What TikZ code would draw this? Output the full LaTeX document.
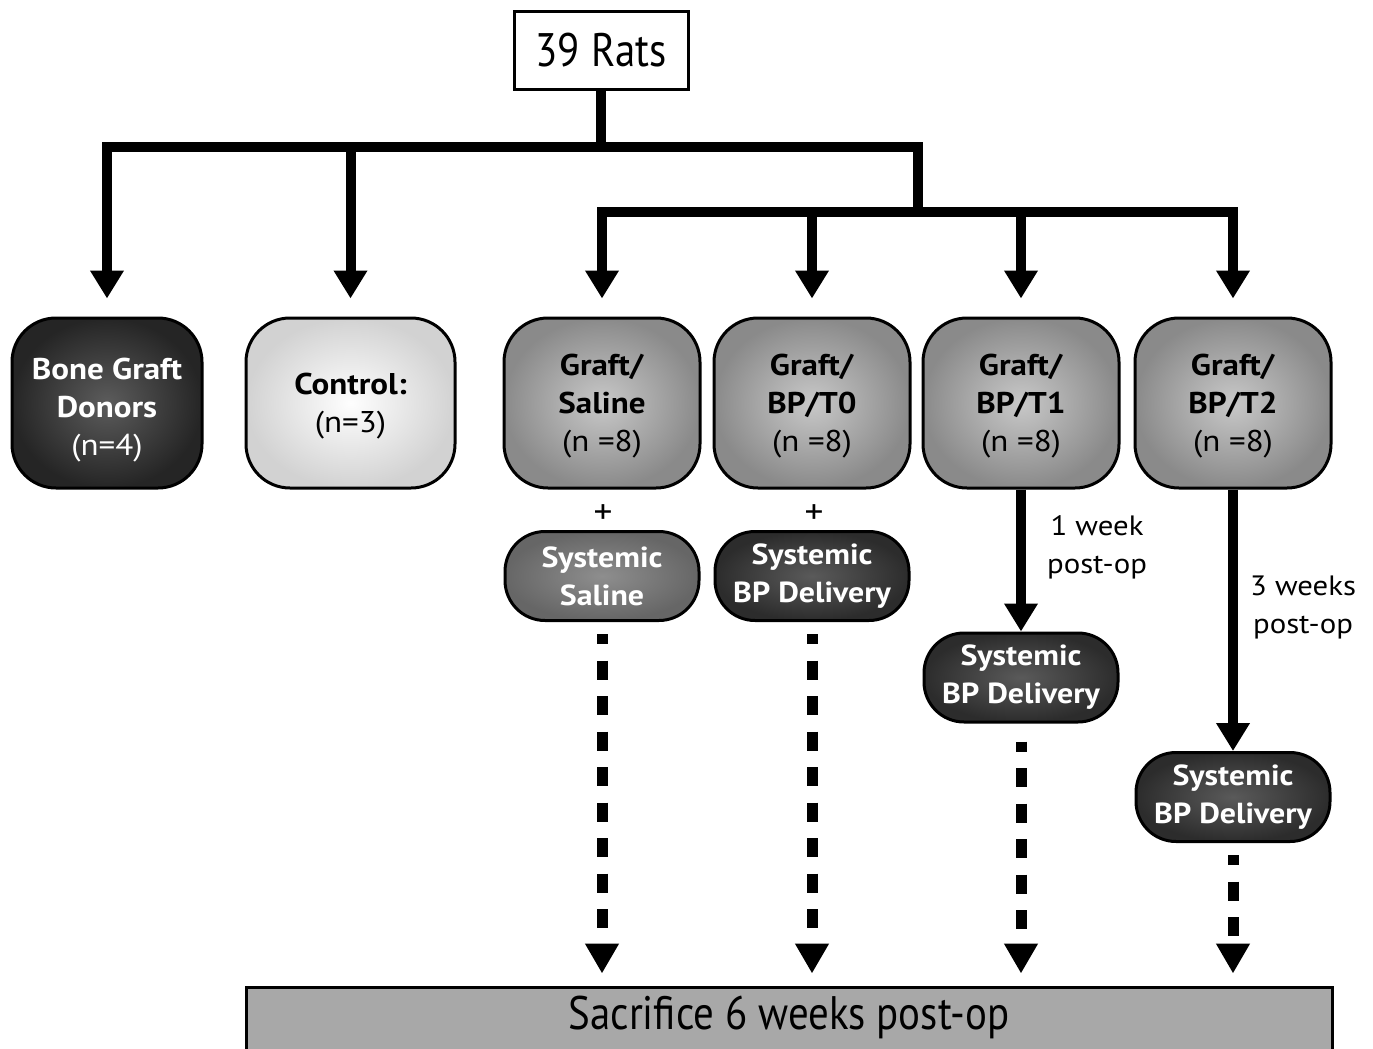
\documentclass[tikz,border=0pt]{standalone}
\usepackage{fontspec}
\setmainfont[FakeStretch=1.1]{PT Sans}
\newfontfamily\narrowfont[FakeStretch=0.87]{PT Sans}
\usetikzlibrary{arrows.meta}
\definecolor{graftin}{HTML}{C8C8C8}
\definecolor{graftout}{HTML}{8A8A8A}
\definecolor{darkin}{HTML}{5C5C5C}
\definecolor{darkout}{HTML}{252525}
\definecolor{lightin}{HTML}{FEFEFE}
\definecolor{lightout}{HTML}{D2D2D2}
\definecolor{salin}{HTML}{8E8E8E}
\definecolor{salout}{HTML}{666666}
\definecolor{bpin}{HTML}{5A5A5A}
\definecolor{bpout}{HTML}{2C2C2C}
\definecolor{sacfill}{HTML}{A8A8A8}
\begin{document}
\begin{tikzpicture}[x=1pt,y=-1pt,
  bigbox/.style={draw=black, line width=3pt, rounded corners=44pt, minimum height=170pt,
    inner sep=0pt},
  graftbox/.style={bigbox, minimum width=196pt, inner color=graftin, outer color=graftout},
  boxtext/.style={align=center, inner sep=0pt, font=\fontsize{30}{38}\selectfont},
  pillbox/.style={draw=black, line width=3pt, rounded corners=40pt, minimum width=194pt,
    minimum height=89pt, inner sep=0pt, align=center, text=white,
    font=\fontsize{29}{38}\selectfont\bfseries},
  salpill/.style={pillbox, inner color=salin, outer color=salout},
  bppill/.style={pillbox, inner color=bpin, outer color=bpout},
  tree/.style={line width=10pt},
  tip/.style={-{Triangle[width=32pt,length=28pt]}},
  dotarr/.style={line width=11pt, dash pattern=on 19pt off 16.5pt, dash phase=9pt,
    -{Triangle[width=32pt,length=30pt]}, shorten >=12pt},
  lbl/.style={align=center, inner sep=0pt, font=\fontsize{28}{38}\selectfont}
]
\clip (0,0) rectangle (1373,1049);
\fill[white] (0,0) rectangle (1373,1049);

% top box
\node[draw=black, line width=3pt, minimum width=174pt, minimum height=77pt, inner sep=0pt,
  font=\narrowfont\fontsize{47}{50}\selectfont] (rats) at (601,50.5) {39 Rats};

% group boxes
\node[bigbox, minimum width=190pt, inner color=darkin, outer color=darkout] (bone) at (107,403) {};
\node[boxtext, text=white] (boneT) at ([yshift=-7pt]bone.center)
  {\textbf{Bone Graft}\\\textbf{Donors}\\(n=4)};
\node[bigbox, minimum width=209pt, inner color=lightin, outer color=lightout] (ctrl) at (350.5,403) {};
\node[boxtext] (ctrlT) at ([yshift=-3pt]ctrl.center) {\textbf{Control:}\\(n=3)};
\node[graftbox] (gsal) at (602,403) {};
\node[boxtext] (gsalT) at ([yshift=-3pt]gsal.center) {\textbf{Graft/}\\\textbf{Saline}\\(n =8)};
\node[graftbox] (gt0) at (812,403) {};
\node[boxtext] (gt0T) at ([yshift=-3pt]gt0.center) {\textbf{Graft/}\\\textbf{BP/T0}\\(n =8)};
\node[graftbox] (gt1) at (1021,403) {};
\node[boxtext] (gt1T) at ([yshift=-3pt]gt1.center) {\textbf{Graft/}\\\textbf{BP/T1}\\(n =8)};
\node[graftbox] (gt2) at (1233,403) {};
\node[boxtext] (gt2T) at ([yshift=-3pt]gt2.center) {\textbf{Graft/}\\\textbf{BP/T2}\\(n =8)};

% plus signs
\node[lbl, font=\fontsize{34}{38}\selectfont] (p1) at (603,514) {+};
\node[lbl, font=\fontsize{34}{38}\selectfont] (p2) at (814,514) {+};

% systemic pills
\node[salpill] (ssal) at (602,576) {Systemic\\Saline};
\node[bppill] (st0) at (812,576) {Systemic\\BP Delivery};
\node[bppill] (st1) at (1021,677.5) {Systemic\\BP Delivery};
\node[bppill] (st2) at (1233,797) {Systemic\\BP Delivery};

% time labels
\node[lbl] (l1) at (1097,547) {1 week\\post-op};
\node[lbl] (l2) at (1303,607) {3 weeks\\post-op};

% sacrifice box
\node[draw=black, line width=3pt, fill=sacfill, minimum width=1086pt, minimum height=100pt,
  inner sep=0pt] (sac) at (789,1037) {};
\node[inner sep=0pt, font=\narrowfont\fontsize{47}{50}\selectfont] (sactext) at (789,1017)
  {Sacrifice 6 weeks post-op};

% tree connectors
\coordinate (j1) at (601,147);
\coordinate (j2) at (918,212);
\draw[tree] (rats.south) -- (j1);
\draw[tree, tip, shorten >=18pt] (j1) -| (bone.north);
\draw[tree, tip, shorten >=18pt] (j1) -| (ctrl.north);
\draw[tree] (j1) -| (j2);
\draw[tree, tip, shorten >=18pt] (j2) -| (gsal.north);
\draw[tree, tip, shorten >=18pt] (j2) -| (gt0.north);
\draw[tree, tip, shorten >=18pt] (j2) -| (gt1.north);
\draw[tree, tip, shorten >=18pt] (j2) -| (gt2.north);

% timed deliveries
\draw[tree, tip] (gt1.south) -- (st1.north);
\draw[tree, tip] (gt2.south) -- (st2.north);

% dotted arrows to sacrifice
\draw[dotarr] ([yshift=-12pt]ssal.south) -- (ssal.south |- sac.north);
\draw[dotarr] ([yshift=-12pt]st0.south) -- (st0.south |- sac.north);
\draw[dotarr] ([yshift=-18pt]st1.south) -- (st1.south |- sac.north);
\draw[dotarr] ([yshift=-12pt]st2.south) -- (st2.south |- sac.north);
\end{tikzpicture}
\end{document}
